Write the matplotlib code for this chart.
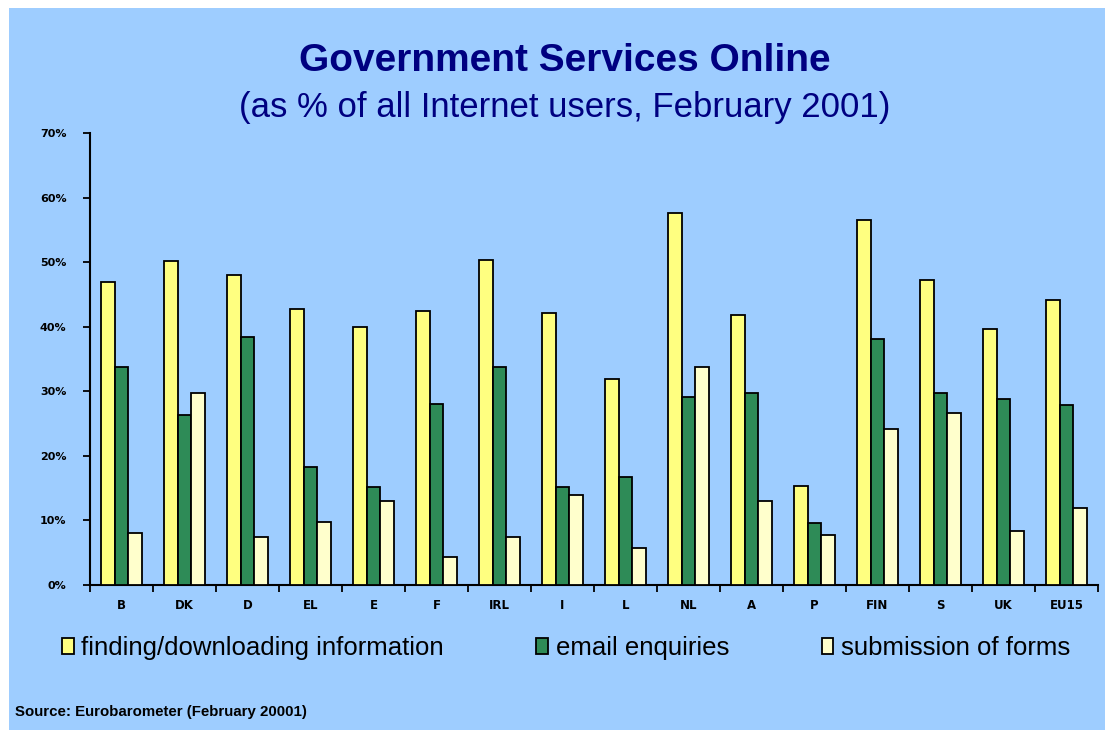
import numpy as np
import matplotlib.pyplot as plt
from matplotlib.patches import Rectangle

countries = ["B", "DK", "D", "EL", "E", "F", "IRL", "I", "L", "NL",
             "A", "P", "FIN", "S", "UK", "EU15"]
finding = [47.0, 50.1, 48.0, 42.7, 39.9, 42.4, 50.4, 42.1, 31.9, 57.6,
           41.8, 15.4, 56.6, 47.3, 39.6, 44.2]
email = [33.7, 26.3, 38.4, 18.2, 15.1, 28.1, 33.7, 15.1, 16.7, 29.1,
         29.7, 9.6, 38.1, 29.7, 28.8, 27.8]
forms = [8.0, 29.7, 7.4, 9.8, 13.0, 4.3, 7.4, 13.9, 5.8, 33.7,
         13.0, 7.7, 24.1, 26.6, 8.3, 12.0]
series_labels = ["finding/downloading information", "email enquiries",
                 "submission of forms"]
yticks = [0, 10, 20, 30, 40, 50, 60, 70]

BG = "#9ECDFF"
NAVY = "#000080"
colors = ["#FFFF80", "#2E8B57", "#FFFFCC"]

fig = plt.figure(figsize=(11.12, 7.38), dpi=100)
fig.patch.set_facecolor("white")
# light blue panel inside a thin white margin
fig.patches.append(Rectangle((9 / 1112, 8 / 738), 1096 / 1112, 722 / 738,
                             transform=fig.transFigure, facecolor=BG,
                             edgecolor="none", zorder=-10))

ax = fig.add_axes([90 / 1112, 153 / 738, 1008 / 1112, 452 / 738])
ax.set_facecolor("none")
ax.set_zorder(1)

x = np.arange(len(countries))
w = 0.215
for i, (vals, c, lab) in enumerate(zip([finding, email, forms], colors, series_labels)):
    ax.bar(x + (i - 1) * w, vals, w, color=c, edgecolor="black",
           linewidth=1.3, label=lab, zorder=3)

ax.set_xlim(-0.5, len(countries) - 0.5)
ax.set_ylim(0, 70)
ax.set_yticks(yticks)
ax.set_yticklabels([f"{t}%" for t in yticks], fontsize=8, fontweight="bold")
ax.set_xticks(x)
ax.set_xticklabels(countries, fontsize=8.5, fontweight="bold")
ax.set_xticks(np.arange(len(countries) + 1) - 0.5, minor=True)
ax.tick_params(axis="x", which="major", length=0, pad=10)
ax.tick_params(axis="x", which="minor", length=5, width=1.3, direction="out")
ax.tick_params(axis="y", length=5, width=1.3, direction="out", pad=12)

for s in ["top", "right"]:
    ax.spines[s].set_visible(False)
for s in ["left", "bottom"]:
    ax.spines[s].set_linewidth(1.5)

fig.text(0.508, 0.918, "Government Services Online", ha="center", va="center",
         fontsize=28, fontweight="bold", color=NAVY, family="Liberation Sans")
fig.text(0.508, 0.855, "(as % of all Internet users, February 2001)",
         ha="center", va="center", fontsize=25, color=NAVY,
         family="Liberation Sans")

fig.legend(loc="center", bbox_to_anchor=(0.509, 0.122), ncol=3,
           frameon=False, prop={"family": "Liberation Sans", "size": 18.5},
           handlelength=0.45, handleheight=0.55, handletextpad=0.3,
           columnspacing=3.6)

fig.text(15 / 1112, 0.035, "Source: Eurobarometer (February 20001)",
         fontsize=10.8, fontweight="bold", va="center",
         family="Liberation Sans")

fig.savefig("out.png", dpi=100, facecolor=fig.get_facecolor())
